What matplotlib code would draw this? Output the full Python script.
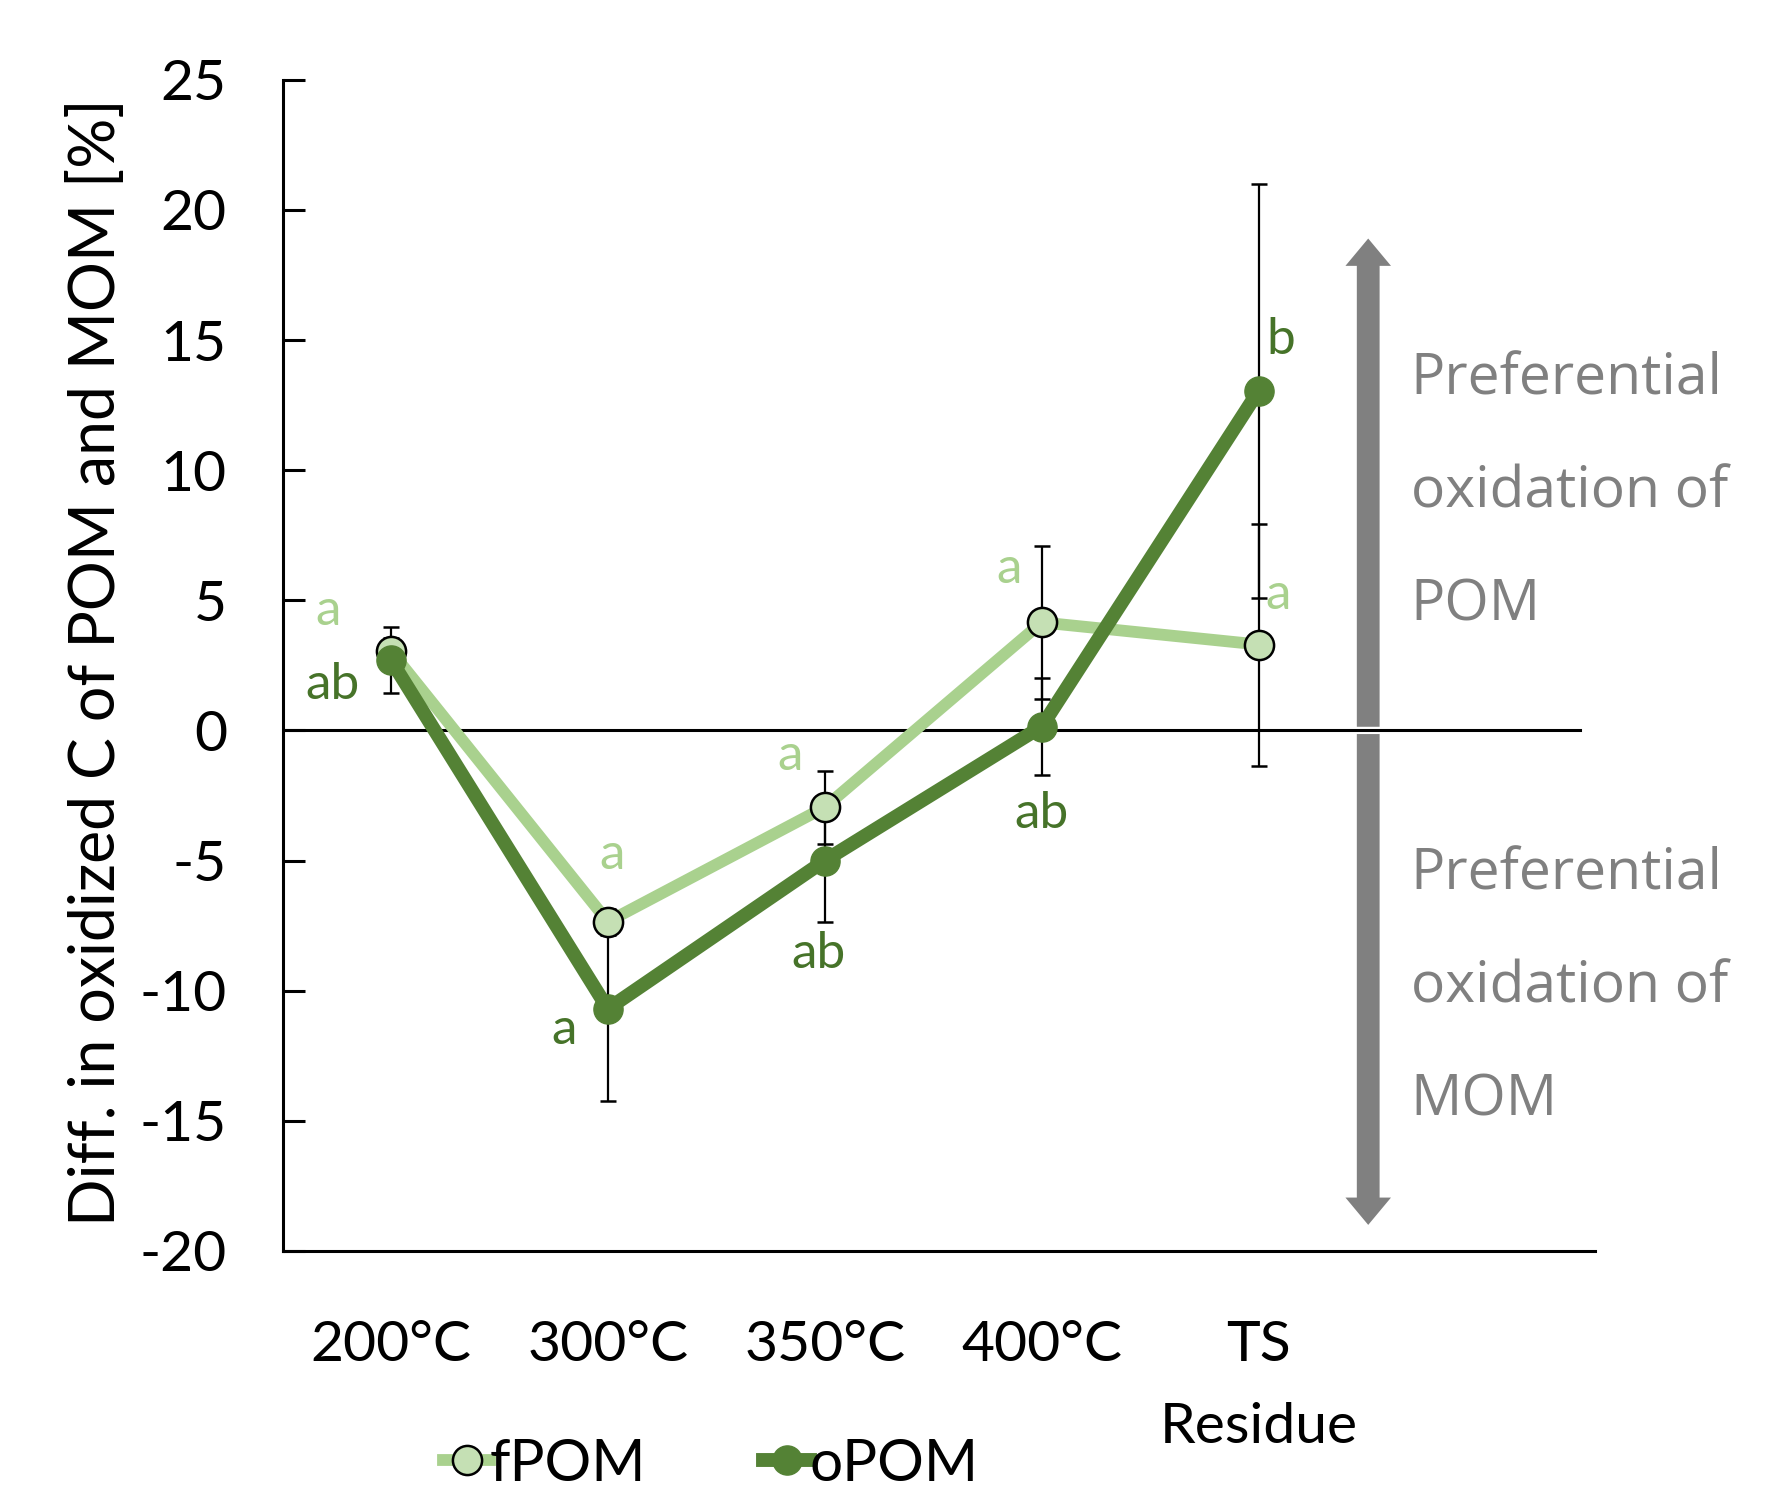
import matplotlib
matplotlib.use("Agg")
import matplotlib.pyplot as plt
from matplotlib.lines import Line2D
from matplotlib.patches import FancyArrow
import numpy as np

plt.rcParams['axes.unicode_minus'] = False
plt.rcParams['font.family'] = ['Lato', 'DejaVu Sans']

categories = ["200°C", "300°C", "350°C", "400°C", "TS\nResidue"]
fpom = [3.05, -7.35, -2.95, 4.15, 3.3]
fpom_err = [0.5, 0.5, 1.4, 2.95, 4.65]
opom = [2.7, -10.7, -5.0, 0.15, 13.05]
opom_err = [1.27, 3.55, 2.36, 1.85, 7.95]
fpom_letters = ["a", "a", "a", "a", "a"]
opom_letters = ["ab", "a", "ab", "ab", "b"]
yticks = [-20, -15, -10, -5, 0, 5, 10, 15, 20, 25]

# label offsets (layout)
fpom_lab_dx = [-0.29, 0.02, -0.16, -0.15, 0.09]
fpom_lab_y = [4.6, -4.8, -1.0, 6.2, 5.2]
opom_lab_dx = [-0.27, -0.2, -0.03, 0.0, 0.1]
opom_lab_y = [1.73, -11.5, -8.6, -3.2, 15.0]

LIGHT_LINE = "#A9D18E"
LIGHT_FACE = "#C5E0B4"
DARK = "#548235"
DARK_TXT = "#467329"
GRAY = "#808080"

fig = plt.figure(figsize=(17.88, 14.94), dpi=100)
ax = fig.add_axes([0.158, 0.1627, 0.892 - 0.158, 0.9466 - 0.1627])
x = np.arange(len(categories))

ax.set_xlim(-0.5, 5.55)
ax.set_ylim(-20, 25)

# gray double arrow (two halves, gap at zero line)
ax_x = 4.505
for y0, y1 in [(0.14, 18.9), (-0.14, -19.0)]:
    ax.add_patch(FancyArrow(ax_x, y0, 0, y1 - y0, width=0.105, head_width=0.21,
                            head_length=1.05, length_includes_head=True,
                            color=GRAY, lw=0, zorder=1))
ax.axhline(0, xmin=0, xmax=(5.48 + 0.5) / 6.05, color="black", lw=2.2, zorder=1.6)

# lines
ax.plot(x, fpom, color=LIGHT_LINE, lw=8.5, zorder=2, solid_capstyle="butt")
ax.plot(x, opom, color=DARK, lw=10, zorder=2.1, solid_capstyle="butt")
# error bars
ax.errorbar(x, fpom, yerr=fpom_err, fmt="none", ecolor="black", elinewidth=1.6,
            capsize=6, capthick=1.8, zorder=3)
ax.errorbar(x, opom, yerr=opom_err, fmt="none", ecolor="black", elinewidth=1.6,
            capsize=6, capthick=1.8, zorder=3)
# markers
ax.plot(x, fpom, ls="none", marker="o", ms=21, mfc=LIGHT_FACE, mec="black", mew=1.8, zorder=4)
ax.plot(x, opom, ls="none", marker="o", ms=21, mfc=DARK, mec=DARK, zorder=4.1)

for i in range(len(categories)):
    ax.text(x[i] + fpom_lab_dx[i], fpom_lab_y[i], fpom_letters[i], color=LIGHT_LINE,
            fontsize=37, ha="center", va="center", zorder=5)
    ax.text(x[i] + opom_lab_dx[i], opom_lab_y[i], opom_letters[i], color=DARK_TXT,
            fontsize=37, ha="center", va="center", zorder=5)

ax.text(4.70, 9.13, "Preferential\noxidation of\nPOM", color=GRAY, fontsize=41,
        family=["Open Sans", "DejaVu Sans"], ha="left", va="center", linespacing=2.3)
ax.text(4.70, -9.9, "Preferential\noxidation of\nMOM", color=GRAY, fontsize=41,
        family=["Open Sans", "DejaVu Sans"], ha="left", va="center", linespacing=2.3)

for s in ["top", "right"]:
    ax.spines[s].set_visible(False)
for s in ["left", "bottom"]:
    ax.spines[s].set_linewidth(2.2)

ax.set_yticks(yticks)
ax.set_yticklabels([str(v) for v in yticks])
ax.tick_params(axis="y", direction="in", length=16, width=2.2, pad=40, labelsize=41)
ax.set_xticks(x)
ax.set_xticklabels(categories, linespacing=1.75)
ax.tick_params(axis="x", length=0, pad=50, labelsize=41)
for lab in ax.get_xticklabels():
    lab.set_verticalalignment("top")

fig.text(0.054, 0.5566, "Diff. in oxidized C of POM and MOM [%]", rotation=90,
         fontsize=45, ha="center", va="center")

h1 = Line2D([], [], color=LIGHT_LINE, lw=8.5, marker="o", ms=21, mfc=LIGHT_FACE, mec="black", mew=1.8)
h2 = Line2D([], [], color=DARK, lw=10, marker="o", ms=21, mfc=DARK, mec=DARK)
fig.legend([h1, h2], ["fPOM", "oPOM"], loc="center left", bbox_to_anchor=(0.248, 0.02),
           ncol=2, frameon=False, fontsize=42, handlelength=0.8, handletextpad=0.0,
           columnspacing=2.0, borderaxespad=0, borderpad=0)

fig.savefig("out.png", dpi=100)
